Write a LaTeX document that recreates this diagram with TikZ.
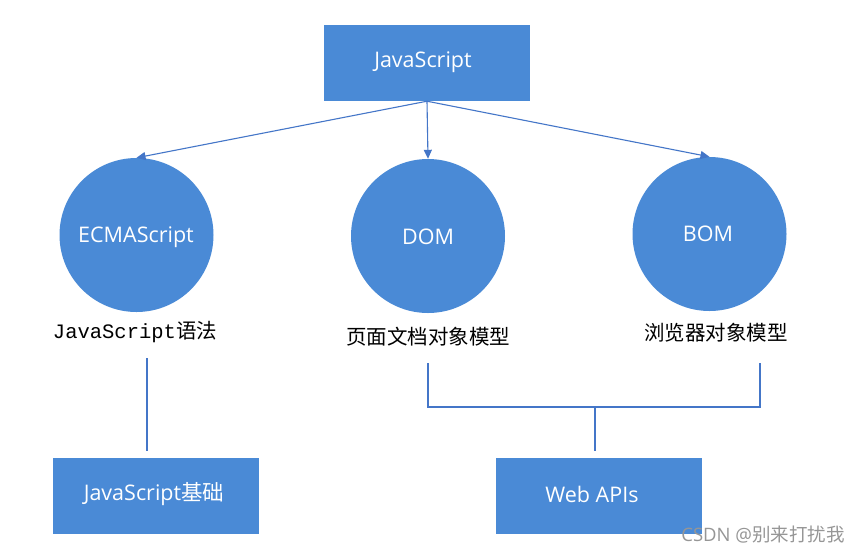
\documentclass[tikz,border=0pt]{standalone}
\usepackage{fontspec}
\setmainfont{Open Sans}
\newfontfamily\cjk{Noto Sans CJK SC}
\newfontfamily\monof{Liberation Mono}
\usetikzlibrary{arrows.meta}
\definecolor{boxblue}{RGB}{74,138,214}
\definecolor{lineblue}{RGB}{68,118,200}
\definecolor{wm}{RGB}{150,150,150}
\tikzset{
  rectbox/.style={fill=boxblue, draw=none, minimum width=206pt, minimum height=76pt, inner sep=0pt},
  ball/.style={circle, fill=boxblue, draw=none, minimum size=154pt, inner sep=0pt},
  wtext/.style={text=white, inner sep=0pt, font=\fontsize{21.5}{25}\selectfont},
  caption/.style={inner sep=0pt, text=black, font=\fontsize{20.5}{24}\selectfont},
  link/.style={draw=lineblue, line width=1.1pt},
  arr/.style={link, -{Triangle[length=9pt,width=8pt]}}
}
\begin{document}
\begin{tikzpicture}[x=1pt,y=-1pt]
\useasboundingbox[fill=white] (0,0) rectangle (865,555);
\node[rectbox] (js) at (427,63) {};
\node[wtext] (jst) at (423,62) {JavaScript};
\node[ball] (ecma) at (136.5,235) {};
\node[ball] (dom) at (428,236) {};
\node[ball] (bom) at (709.5,234) {};
\node[wtext] (ecmat) at (136,237) {ECMAScript};
\node[wtext] (domt) at (428,237) {DOM};
\node[wtext] (bomt) at (708,234) {BOM};
\draw[arr] (js.south) -- (ecma.north);
\draw[arr] (js.south) -- (dom.north);
\draw[arr] (js.south) -- (bom.north);
\node[caption] (ecmal) at (135,332) {{\monof JavaScript}{\cjk 语法}};
\node[caption] (doml) at (428,337) {\cjk 页面文档对象模型};
\node[caption] (boml) at (716,333) {\cjk 浏览器对象模型};
\node[rectbox] (base) at (155.5,496) {};
\node[wtext] (baset) at (154,494) {JavaScript{\cjk 基础}};
\node[rectbox] (api) at (599,496) {};
\node[wtext] (apit) at (592,494) {Web APIs};
\coordinate (l1) at (147,358);
\coordinate (l2) at (147,451);
\draw[link] (l1) -- (l2);
\coordinate (b1) at (428,363);
\coordinate (b2) at (760,363);
\coordinate (bj) at (595,407);
\coordinate (bb) at (595,451);
\draw[link] (b1) |- (bj) -| (b2);
\draw[link] (bj) -- (bb);
\node[inner sep=0pt, text=wm, font=\fontsize{18.5}{22}\selectfont] (mark) at (763,535) {CSDN @{\cjk 别来打扰我}};
\end{tikzpicture}
\end{document}
